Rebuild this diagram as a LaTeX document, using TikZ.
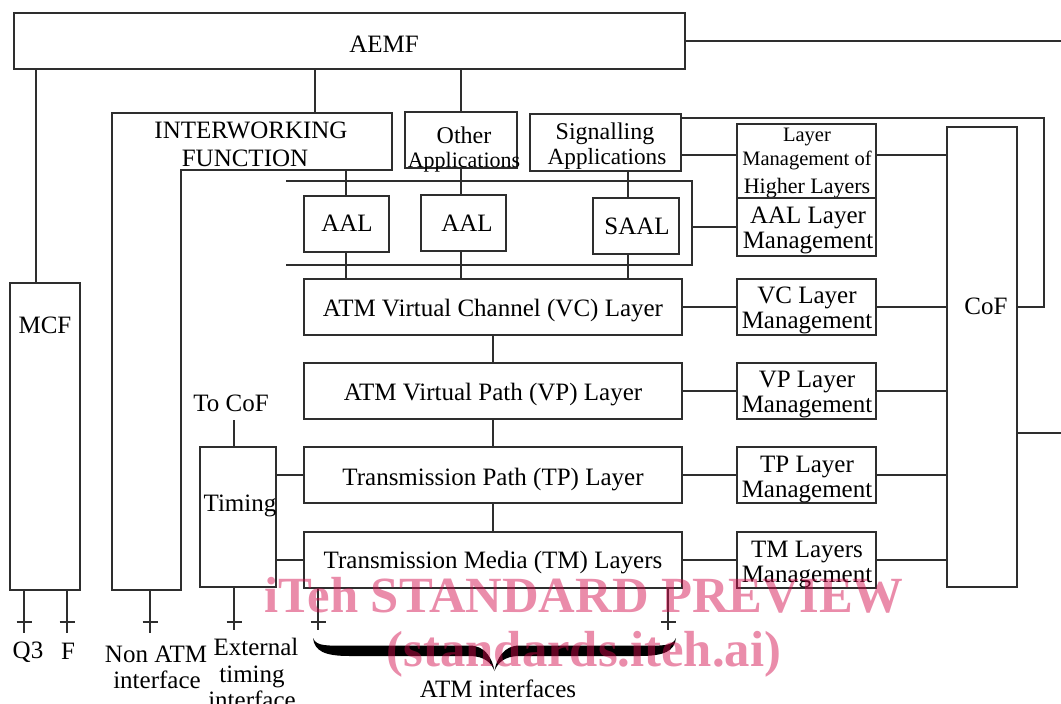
\documentclass[tikz,border=0pt]{standalone}
\usepackage{fontspec}
\setmainfont{Liberation Serif}
\usetikzlibrary{fit}
\definecolor{ln}{gray}{0.18}
\definecolor{wm}{RGB}{210,10,75}
\newcommand\mainsz{\fontsize{25}{27}\selectfont}
\newcommand\sigsz{\fontsize{24}{26}\selectfont}
\newcommand\appsz{\fontsize{22}{24}\selectfont}
\newcommand\smallsz{\fontsize{20.5}{22}\selectfont}
\newcommand\wmsz{\bfseries\fontsize{50.7}{52}\selectfont}
\begin{document}
\begin{tikzpicture}[x=1pt,y=-1pt,line width=1.4pt,
  every node/.style={inner sep=0pt,outer sep=0pt,font=\mainsz},
  box/.style={draw=ln},
  lbl/.style={anchor=base},
  wire/.style={draw=ln}]

\useasboundingbox (0,0) rectangle (1061,704);

% ---------- management / application boxes ----------
\node[box,fit={(14,13)(685,69)}] (aemf) {};
\node[lbl] (aemf-t) at (384,52) {AEMF};

\node[box,fit={(10,283)(80,590)}] (mcf) {};
\node[lbl] (mcf-t) at (45,333) {MCF};

% interworking function: L-shaped outline
\coordinate (iwf-nw) at (112,113);
\coordinate (iwf-ne) at (392,113);
\coordinate (iwf-se) at (392,170);
\coordinate (iwf-in) at (181,170);
\coordinate (iwf-sr) at (181,590);
\coordinate (iwf-sw) at (112,590);
\draw[box] (iwf-nw) -- (iwf-ne) -- (iwf-se) -- (iwf-in) -- (iwf-sr) -- (iwf-sw) -- cycle;
\node[lbl] (iwf-t1) at (251,138) {INTERWORKING};
\node[lbl] (iwf-t2) at (245,166) {FUNCTION};
\coordinate (iwf-up) at (315,113);
\coordinate (iwf-dn) at (346,170);

\node[box,fit={(405,112)(517,168)}] (oth) {};
\node[lbl,font=\sigsz] (oth-t1) at (464,143) {Other};
\node[lbl,font=\appsz] (oth-t2) at (464,167) {Applications};

\node[box,fit={(530,114)(681,171)}] (sig) {};
\node[lbl,font=\sigsz] (sig-t1) at (605,139) {Signalling};
\node[lbl,font=\fontsize{23.2}{25}\selectfont] (sig-t2) at (607,164) {Applications};

\node[box,fit={(737,124)(876,198)}] (lmh) {};
\node[lbl,font=\smallsz] (lmh-t1) at (807,141) {Layer};
\node[lbl,font=\smallsz] (lmh-t2) at (807,165) {Management of};
\node[lbl,font=\appsz] (lmh-t3) at (807,193) {Higher Layers};

\node[box,fit={(737,198)(876,256)}] (aalm) {};
\node[lbl] (aalm-t1) at (808,223) {AAL Layer};
\node[lbl] (aalm-t2) at (808,248) {Management};

% ---------- adaptation layer ----------
\node[box,fit={(304,196)(389,252)}] (aal1) {};
\node[lbl] (aal1-t) at (347,231) {AAL};
\node[box,fit={(421,195)(506,251)}] (aal2) {};
\node[lbl] (aal2-t) at (467,231) {AAL};
\node[box,fit={(593,198)(679,254)}] (saal) {};
\node[lbl] (saal-t) at (637,234) {SAAL};

\coordinate (br-tl) at (286,181);
\coordinate (br-tr) at (692,181);
\coordinate (br-br) at (692,265);
\coordinate (br-bl) at (286,265);
\draw[wire] (br-tl) -- (br-tr) -- (br-br) -- (br-bl);

% ---------- ATM layers ----------
\node[box,fit={(304,279)(682,335)}] (vc) {};
\node[lbl] (vc-t) at (493,316.5) {ATM Virtual Channel (VC) Layer};
\node[box,fit={(304,363)(682,419)}] (vp) {};
\node[lbl] (vp-t) at (493,400.5) {ATM Virtual Path (VP) Layer};
\node[box,fit={(304,447)(682,503)}] (tp) {};
\node[lbl] (tp-t) at (493,485) {Transmission Path (TP) Layer};
\node[box,fit={(304,532)(682,588)}] (tm) {};
\node[lbl] (tm-t) at (493,568.5) {Transmission Media (TM) Layers};

\node[box,fit={(737,279)(876,335)}] (vclm) {};
\node[lbl] (vclm-t1) at (807,303.5) {VC Layer};
\node[lbl] (vclm-t2) at (807,328.5) {Management};
\node[box,fit={(737,363)(876,419)}] (vplm) {};
\node[lbl] (vplm-t1) at (807,387.5) {VP Layer};
\node[lbl] (vplm-t2) at (807,412.5) {Management};
\node[box,fit={(737,447)(876,503)}] (tplm) {};
\node[lbl] (tplm-t1) at (807,472) {TP Layer};
\node[lbl] (tplm-t2) at (807,497) {Management};
\node[box,fit={(737,532)(876,588)}] (tmlm) {};
\node[lbl] (tmlm-t1) at (807,557) {TM Layers};
\node[lbl] (tmlm-t2) at (807,582) {Management};

\node[box,fit={(947,127)(1017,587)}] (cof) {};
\node[lbl] (cof-t) at (986,314) {CoF};

\node[box,fit={(200,447)(276,587)}] (tim) {};
\node[lbl] (tim-t) at (240,511) {Timing};
\node[lbl] (tocof) at (231,411) {To CoF};
\coordinate (tocof-s) at (234,420);

% ---------- connectors ----------
\coordinate (edge-a) at (1061,42);
\coordinate (edge-b) at (1061,433);
\coordinate (cof-r) at (1044,307);
\draw[wire] (aemf.east) -- (aemf.east -| edge-a);
\draw[wire] (cof.east |- edge-b) -- (edge-b);
\draw[wire] ([xshift=-9pt]mcf.north) -- ([xshift=-9pt]mcf.north |- aemf.south);
\draw[wire] (iwf-up) -- (iwf-up |- aemf.south);
\draw[wire] (oth.north) -- (oth.north |- aemf.south);

\draw[wire] (iwf-dn) -- (iwf-dn |- aal1.north);
\draw[wire] (oth.south) -- (oth.south |- aal2.north);
\draw[wire] ([xshift=-8pt]saal.north) -- ([xshift=-8pt]saal.north |- sig.south);
\draw[wire] (iwf-dn |- aal1.south) -- (iwf-dn |- vc.north);
\draw[wire] (oth.south |- aal2.south) -- (oth.south |- vc.north);
\draw[wire] ([xshift=-8pt]saal.south) -- ([xshift=-8pt]saal.south |- vc.north);

\draw[wire] (br-tr |- aalm.west) -- (aalm.west);
\draw[wire] ([yshift=6pt]lmh.west) -- ([yshift=6pt]lmh.west -| sig.east);
\draw[wire] ([yshift=6pt]lmh.east) -- ([yshift=6pt]lmh.east -| cof.west);
\draw[wire] ([yshift=-4pt]sig.north east) -| (cof-r) -- (cof-r -| cof.east);

\draw[wire] (vc.south) -- (vp.north);
\draw[wire] (vp.south) -- (tp.north);
\draw[wire] (tp.south) -- (tm.north);
\foreach \l in {vc,vp,tp,tm}{
  \draw[wire] (\l.east) -- (\l.east -| \l lm.west);
  \draw[wire] (\l lm.east) -- (\l lm.east -| cof.west);
}

\draw[wire] (tocof-s) -- (tocof-s |- tim.north);
\draw[wire] (tim.east |- tp.west) -- (tp.west);
\draw[wire] (tim.east |- tm.west) -- (tm.west);

% ---------- interfaces ----------
\coordinate (if-q3) at (24,633);
\coordinate (if-f) at (67,633);
\coordinate (if-na) at (150,633);
\coordinate (if-et) at (234,630);
\coordinate (if-al) at (318,630);
\coordinate (if-ar) at (668,630);
\draw[wire] (if-q3 |- mcf.south) -- (if-q3) ++(-7.5,-11) -- ++(15,0);
\draw[wire] (if-f |- mcf.south) -- (if-f) ++(-7.5,-11) -- ++(15,0);
\draw[wire] (if-na |- iwf-sw) -- (if-na) ++(-7.5,-11) -- ++(15,0);
\draw[wire] (if-et |- tim.south) -- (if-et) ++(-7.5,-8) -- ++(15,0);
\draw[wire] (if-al |- tm.south) -- (if-al) ++(-7.5,-8) -- ++(15,0);
\draw[wire] (if-ar |- tm.south) -- (if-ar) ++(-7.5,-8) -- ++(15,0);

\node[lbl] (q3-t) at (28,658) {Q3};
\node[lbl] (f-t) at (68,659) {F};
\node[lbl] (na-t1) at (156,662) {Non ATM};
\node[lbl] (na-t2) at (157,688) {interface};
\node[lbl] (et-t1) at (256,655) {External};
\node[lbl] (et-t2) at (252,682) {timing};
\node[lbl] (et-t3) at (252,708) {interface};

% brace under the ATM interfaces
\foreach \s in {1,-1}{
  \fill[black,shift={(494.5,0)},xscale=\s]
    (-181.5,638) .. controls (-178,647) and (-166,645.5) .. (-145,645.5)
    -- (-25,645.5) .. controls (-9,645.5) and (-2,659) .. (0,671)
    .. controls (-3,663) and (-10,656) .. (-25,656)
    -- (-145,656) .. controls (-170,656) and (-180,651) .. (-181.5,638) -- cycle;
}
\node[lbl] (atm-t) at (498,697) {ATM interfaces};

% ---------- overprint ----------
\node[lbl,font=\wmsz,text=wm,text opacity=0.47] (wm-1) at (584,612) {iTeh STANDARD PREVIEW};
\node[lbl,font=\wmsz,text=wm,text opacity=0.47] (wm-2) at (584,666) {(standards.iteh.ai)};
\end{tikzpicture}
\end{document}
